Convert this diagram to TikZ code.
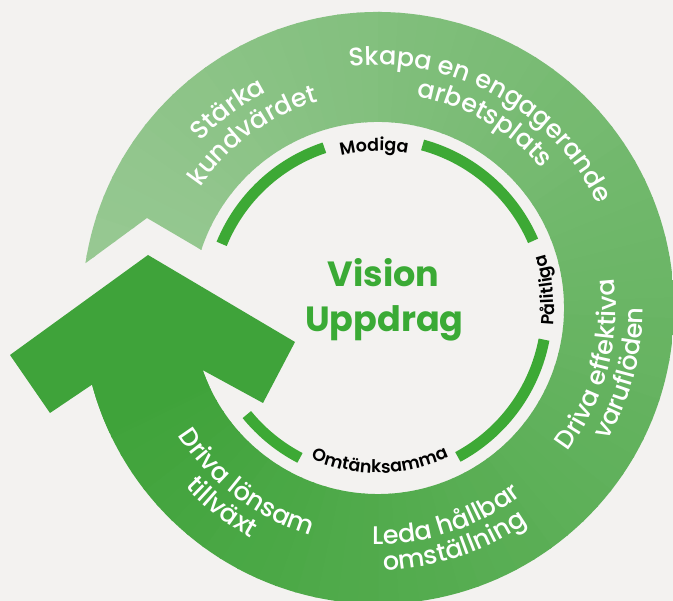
\documentclass[tikz,border=0pt]{standalone}
\usepackage{fontspec}
\setmainfont{Poppins}
\IfFontExistsTF{Poppins SemiBold}{\newfontfamily\lblfont{Poppins SemiBold}}{\newfontfamily\lblfont{Poppins}[FakeBold=2]}
\IfFontExistsTF{Poppins Medium}{\newfontfamily\bandfont{Poppins Medium}}{\newfontfamily\bandfont{Poppins}[FakeBold=1.2]}
\usetikzlibrary{decorations.text,calc}
\definecolor{bg}{HTML}{F3F2F0}
\definecolor{bandLight}{HTML}{97C892}
\definecolor{bandDark}{HTML}{3FA33A}
\definecolor{ringGreen}{HTML}{3DA935}
\definecolor{visGreen}{HTML}{3AAA35}
\tikzset{
  ringseg/.style={draw=ringGreen, line width=11},
  vistext/.style={text=visGreen, font=\bfseries\fontsize{35}{35}\selectfont, inner sep=0pt, anchor=base},
}
\newcommand\bandtxt[1]{|\bandfont\fontsize{25.5}{25.5}\selectfont\color{white}|#1}
\newcommand\lbltxt[1]{|\lblfont\fontsize{17.5}{17.5}\selectfont\color{black}|#1}
% clockwise text (tops outward): centre angle, radius, text
\newcommand\cwtext[3]{\path[decorate, decoration={text along path, text={#3}, text align=center}]
  ($(C)+({#1+80}:#2)$) arc[start angle={#1+80}, end angle={#1-80}, radius=#2];}
% counter-clockwise text (tops inward)
\newcommand\ccwtext[3]{\path[decorate, decoration={text along path, text={#3}, text align=center}]
  ($(C)+({#1-80}:#2)$) arc[start angle={#1-80}, end angle={#1+80}, radius=#2];}
\begin{document}
\begin{tikzpicture}[x=1pt,y=1pt]
\useasboundingbox (0,0) rectangle (673,601);
\fill[bg] (0,0) rectangle (673,601);
\coordinate (C) at (378,293);
% band body
\coordinate (tailO) at ($(C)+(171.3:296)$);
\coordinate (shaftO) at ($(C)+(-165:296)$);
\coordinate (shaftI) at ($(C)+(-160.5:186)$);
\coordinate (tailI) at ($(C)+(161.8:186)$);
\coordinate (notch) at (147,383);
\coordinate (wingLI) at (50,188);
\coordinate (wingLO) at (10,246);
\coordinate (tip) at (148,346);
\coordinate (wingRO) at (295,259);
\coordinate (wingRI) at (263,198);
\coordinate (joinI) at ($(C)+(-155:186)$);
\coordinate (joinO) at ($(C)+(-155:296)$);
\begin{scope}
  \clip (tailO) arc[start angle=171.3, end angle=-165, radius=296] -- (shaftI)
     arc[start angle=-160.5, end angle=161.8, radius=186] -- (notch) -- cycle;
  \foreach \i in {0,...,85} {
    \pgfmathsetmacro\a{174-\i*4}
    \pgfmathtruncatemacro\f{min(100,max(0,(172-\a)/327*100))}
    \fill[bandDark!\f!bandLight] (C) -- ($(C)+(\a:330)$) arc[start angle=\a, end angle=\a-4.4, radius=330] -- cycle;
  }
\end{scope}
% arrow head (overlapping the end of the band to hide any seam)
\fill[bandDark] (shaftO) -- (wingLI) -- (wingLO) -- (tip) -- (wingRO) -- (wingRI) -- (shaftI)
  arc[start angle=-160.5, end angle=-155, radius=186] -- (joinO)
  arc[start angle=-155, end angle=-165, radius=296] -- cycle;
% inner ring
\draw[ringseg] ($(C)+(74.7:169)$) arc[start angle=74.7, end angle=23.4, radius=169];
\draw[ringseg] ($(C)+(-10.8:169)$) arc[start angle=-10.8, end angle=-61.8, radius=169];
\draw[ringseg] ($(C)+(-117.5:169)$) arc[start angle=-117.5, end angle=-140.9, radius=169];
\draw[ringseg] ($(C)+(157.7:169)$) arc[start angle=157.7, end angle=108.5, radius=169];
% ring labels
\cwtext{91.4}{157}{\lbltxt{Modiga}}
\ccwtext{6}{176}{\lbltxt{Pålitliga}}
\ccwtext{-89.3}{165}{\lbltxt{Omtänksamma}}
% band texts
\cwtext{127}{243}{\bandtxt{Stärka}}
\cwtext{126}{215}{\bandtxt{kundvärdet}}
\cwtext{61}{243}{\bandtxt{Skapa en engagerande}}
\cwtext{60}{215}{\bandtxt{arbetsplats}}
\ccwtext{-15}{238}{\bandtxt{Driva effektiva}}
\ccwtext{-15}{265}{\bandtxt{varuflöden}}
\ccwtext{-72}{236}{\bandtxt{Leda hållbar}}
\ccwtext{-72}{262}{\bandtxt{omställning}}
\ccwtext{-127}{237}{\bandtxt{Driva lönsam}}
\ccwtext{-128}{263}{\bandtxt{tillväxt}}
% centre
\node[vistext] (vision) at (383.5,314) {Vision};
\node[vistext] (uppdrag) at (384.5,269) {Uppdrag};
\end{tikzpicture}
\end{document}
